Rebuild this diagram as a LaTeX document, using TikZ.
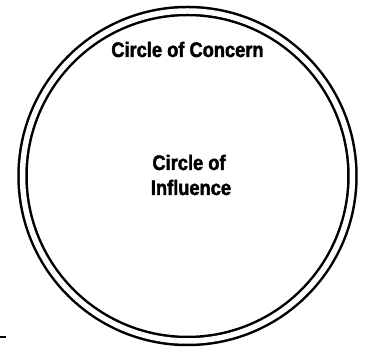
\documentclass[tikz,border=0pt]{standalone}
\usepackage{fontspec}
\usepackage{tikz}
\usetikzlibrary{positioning}
\newfontfamily\labelfont[FakeStretch=0.87, FakeBold=2]{Liberation Sans Bold}
\tikzset{
  ring/.style={circle, draw=black, line width=2.5pt, double=white,
    double distance=5.5pt, inner sep=0pt, outer sep=0pt},
  ringlabel/.style={font=\labelfont\fontsize{21}{24}\selectfont,
    inner sep=0pt, anchor=base}
}

\begin{document}
\begin{tikzpicture}[x=1pt, y=1pt]
  \useasboundingbox (0,0) rectangle (368,350);
  % ── outer circle ───────────────────────────────────────────────────
  \node[ring, minimum size=330pt] (concern) at (187.5,174) {};
  \node[ringlabel] (concernlbl) at (187.5,293) {Circle of Concern};
  % ── centre label ───────────────────────────────────────────────────
  \node[ringlabel] (influence1) at (189,180) {Circle of};
  \node[ringlabel] (influence2) at ([xshift=2pt, yshift=-25pt]influence1.base) {Influence};
  % stray tick
  \coordinate (tickA) at (0,13);
  \coordinate (tickB) at (6,13);
  \draw[line width=1.3pt] (tickA) -- (tickB);
\end{tikzpicture}
\end{document}
